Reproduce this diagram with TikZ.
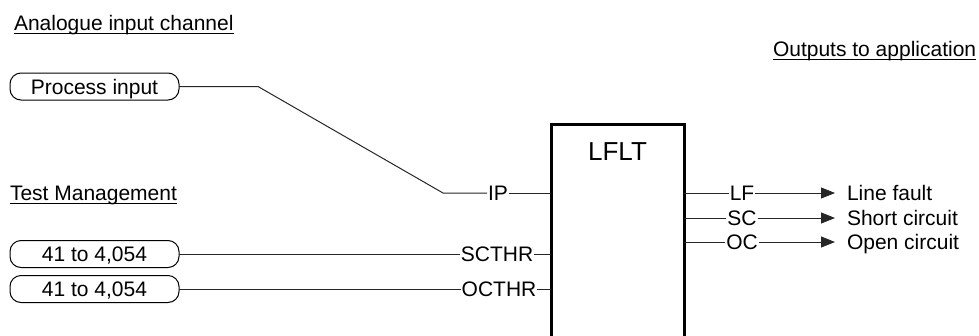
\documentclass[tikz,border=0pt]{standalone}
\usepackage{fontspec}
\setmainfont{Liberation Sans}
\usetikzlibrary{arrows.meta}
\begin{document}
\begin{tikzpicture}[x=1pt,y=-1pt,
  every node/.style={font=\fontsize{21}{25}\selectfont, inner sep=0pt, outer sep=0pt},
  pinlbl/.style={text height=15pt, text depth=0pt, inner xsep=1pt},
  pill/.style={draw, line width=1pt, rounded corners=11pt, minimum width=169pt, minimum height=27pt, text height=15pt, text depth=0pt},
  heading/.style={anchor=base west},
  uline/.style={line width=1.3pt},
  wire/.style={line width=1pt, draw=black!85},
  outarrow/.style={wire, -{Triangle[length=14pt,width=11pt]}, shorten >=11pt},
  blockbox/.style={draw, line width=3pt, minimum width=133pt, minimum height=260pt, anchor=north west}
]
\useasboundingbox (0,0) rectangle (979,335);
\clip (0,0) rectangle (979,335);

% headings
\node[heading] (h1) at (14,30) {Analogue input channel};
\node[heading] (h2) at (10,200) {Test Management};
\node[heading] (h3) at (773,56) {Outputs to application};
\foreach \h in {h1,h2,h3}
  \draw[uline] ([yshift=-3.3pt]\h.base west) -- ([yshift=-3.3pt]\h.base east);

% function block
\node[blockbox] (blk) at (551,124) {};
\node[font=\fontsize{26}{30}\selectfont, anchor=base] (title) at (617.5,160) {LFLT};

% inputs
\node[pill] (pin) at (94.5,86.5) {Process input};
\node[pill] (t1) at (94.5,254) {41 to 4,054};
\node[pill] (t2) at (94.5,289) {41 to 4,054};

\node[pinlbl] (ip) at (498,193) {IP};
\node[pinlbl] (scthr) at (497,254) {SCTHR};
\node[pinlbl] (octhr) at (499,289) {OCTHR};

\coordinate (k1) at (258,86.5);
\coordinate (k2) at (443,193);

\draw[wire] (pin.east) -- (k1) -- (k2) -- (ip.west);
\draw[wire] (ip.east) -- (ip.east -| blk.west);
\draw[wire] (t1.east) -- (scthr.west);
\draw[wire] (scthr.east) -- (scthr.east -| blk.west);
\draw[wire] (t2.east) -- (octhr.west);
\draw[wire] (octhr.east) -- (octhr.east -| blk.west);

% outputs
\node[pinlbl] (lf) at (742,193) {LF};
\node[pinlbl] (sc) at (742,218) {SC};
\node[pinlbl] (oc) at (742,242) {OC};

\node[pinlbl, anchor=west] (lfl) at (846,193) {Line fault};
\node[pinlbl, anchor=west] (scl) at (846,218) {Short circuit};
\node[pinlbl, anchor=west] (ocl) at (846,242) {Open circuit};

\draw[wire] (lf.west -| blk.east) -- (lf.west);
\draw[wire] (sc.west -| blk.east) -- (sc.west);
\draw[wire] (oc.west -| blk.east) -- (oc.west);
\draw[outarrow] (lf.east) -- (lfl.west);
\draw[outarrow] (sc.east) -- (scl.west);
\draw[outarrow] (oc.east) -- (ocl.west);
\end{tikzpicture}
\end{document}
